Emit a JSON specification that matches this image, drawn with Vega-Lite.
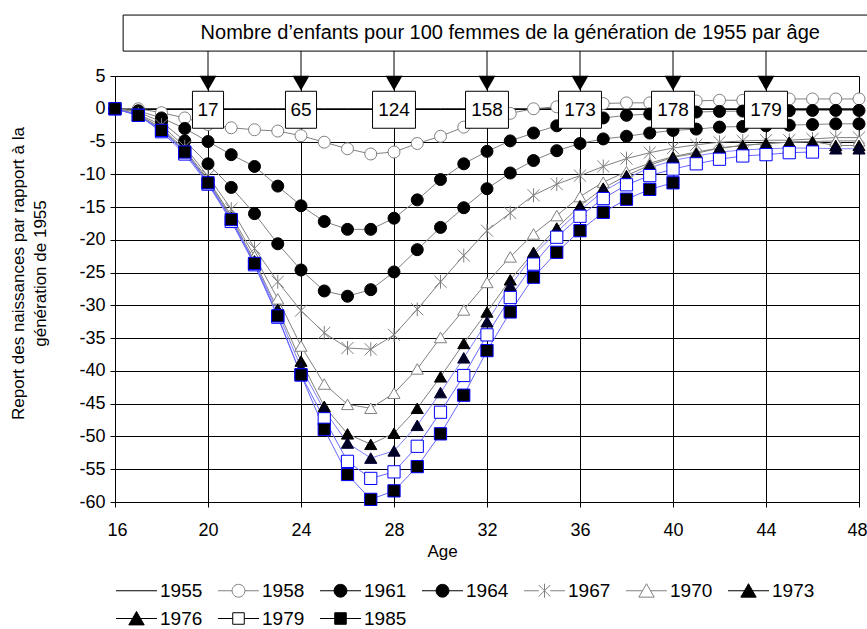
{
  "$schema": "https://vega.github.io/schema/vega-lite/v6.json",
  "width": 744,
  "height": 426,
  "autosize": {"type": "none"},
  "padding": {"left": 115, "top": 76, "right": 8, "bottom": 127},
  "background": "white",
  "config": {"font": "Liberation Sans", "view": {"stroke": null}},
  "datasets": {
    "d": [
      {"a":16,"1955":0,"1958":0,"1961":0,"1964":0,"1967":0,"1970":0,"1973":0,"1976":0,"1979":0,"1985":0},
      {"a":17,"1955":0,"1958":0,"1961":-0.3,"1964":-0.5,"1967":-0.8,"1970":-0.9,"1973":-1.0,"1976":-1.0,"1979":-1.0,"1985":-1.0},
      {"a":18,"1955":0,"1958":-0.6,"1961":-1.4,"1964":-2.0,"1967":-2.5,"1970":-2.9,"1973":-3.1,"1976":-3.2,"1979":-3.5,"1985":-3.3},
      {"a":19,"1955":0,"1958":-1.4,"1961":-3.0,"1964":-4.9,"1967":-5.8,"1970":-6.2,"1973":-6.4,"1976":-6.5,"1979":-6.9,"1985":-6.6},
      {"a":20,"1955":0,"1958":-2.4,"1961":-5.0,"1964":-8.4,"1967":-10.3,"1970":-10.8,"1973":-11.0,"1976":-11.2,"1979":-11.5,"1985":-11.3},
      {"a":21,"1955":0,"1958":-2.9,"1961":-7.0,"1964":-12.0,"1967":-15.3,"1970":-16.3,"1973":-16.6,"1976":-16.9,"1979":-17.2,"1985":-16.9},
      {"a":22,"1955":0,"1958":-3.2,"1961":-8.8,"1964":-16.0,"1967":-21.3,"1970":-22.5,"1973":-23.2,"1976":-23.5,"1979":-23.8,"1985":-23.6},
      {"a":23,"1955":0,"1958":-3.4,"1961":-11.8,"1964":-20.6,"1967":-26.4,"1970":-29.0,"1973":-30.6,"1976":-31.0,"1979":-31.8,"1985":-31.6},
      {"a":24,"1955":0,"1958":-4.1,"1961":-14.8,"1964":-24.6,"1967":-30.8,"1970":-36.2,"1973":-38.5,"1976":-39.5,"1979":-40.6,"1985":-40.6},
      {"a":25,"1955":0,"1958":-5.1,"1961":-17.2,"1964":-27.8,"1967":-34.2,"1970":-42.0,"1973":-45.4,"1976":-46.0,"1979":-47.3,"1985":-48.9},
      {"a":26,"1955":0,"1958":-6.1,"1961":-18.4,"1964":-28.6,"1967":-36.5,"1970":-45.1,"1973":-49.6,"1976":-51.0,"1979":-53.8,"1985":-55.8},
      {"a":27,"1955":0,"1958":-6.9,"1961":-18.4,"1964":-27.6,"1967":-36.7,"1970":-45.7,"1973":-51.2,"1976":-53.3,"1979":-56.4,"1985":-59.6},
      {"a":28,"1955":0,"1958":-6.6,"1961":-16.7,"1964":-24.9,"1967":-34.5,"1970":-43.4,"1973":-49.5,"1976":-52.2,"1979":-55.4,"1985":-58.3},
      {"a":29,"1955":0,"1958":-5.3,"1961":-13.9,"1964":-21.5,"1967":-30.6,"1970":-39.7,"1973":-45.7,"1976":-48.3,"1979":-51.5,"1985":-54.6},
      {"a":30,"1955":0,"1958":-4.2,"1961":-10.8,"1964":-18.1,"1967":-26.4,"1970":-34.9,"1973":-40.9,"1976":-43.3,"1979":-46.3,"1985":-49.6},
      {"a":31,"1955":0,"1958":-2.8,"1961":-8.4,"1964":-15.1,"1967":-22.4,"1970":-30.7,"1973":-35.8,"1976":-38.0,"1979":-40.7,"1985":-43.7},
      {"a":32,"1955":0,"1958":-1.6,"1961":-6.5,"1964":-12.2,"1967":-18.6,"1970":-26.5,"1973":-31.0,"1976":-32.5,"1979":-34.5,"1985":-36.9},
      {"a":33,"1955":0,"1958":-0.7,"1961":-4.9,"1964":-9.8,"1967":-15.9,"1970":-22.6,"1973":-26.1,"1976":-27.0,"1979":-28.8,"1985":-31.0},
      {"a":34,"1955":0,"1958":0,"1961":-3.7,"1964":-7.9,"1967":-13.2,"1970":-19.1,"1973":-21.9,"1976":-22.3,"1979":-23.7,"1985":-25.7},
      {"a":35,"1955":0,"1958":0.3,"1961":-2.6,"1964":-6.4,"1967":-11.5,"1970":-16.3,"1973":-18.2,"1976":-18.8,"1979":-19.6,"1985":-21.9},
      {"a":36,"1955":0,"1958":0.5,"1961":-1.9,"1964":-5.3,"1967":-10.2,"1970":-13.4,"1973":-14.8,"1976":-15.5,"1979":-16.4,"1985":-18.6},
      {"a":37,"1955":0,"1958":0.8,"1961":-1.4,"1964":-4.6,"1967":-8.8,"1970":-11.2,"1973":-12.1,"1976":-12.6,"1979":-13.7,"1985":-15.8},
      {"a":38,"1955":0,"1958":0.9,"1961":-1.0,"1964":-4.2,"1967":-7.6,"1970":-9.6,"1973":-10.2,"1976":-10.6,"1979":-11.6,"1985":-13.8},
      {"a":39,"1955":0,"1958":0.9,"1961":-0.8,"1964":-3.7,"1967":-6.7,"1970":-8.3,"1973":-8.6,"1976":-9.0,"1979":-10.2,"1985":-12.3},
      {"a":40,"1955":0,"1958":1.0,"1961":-0.6,"1964":-3.3,"1967":-6.0,"1970":-7.3,"1973":-7.4,"1976":-7.9,"1979":-9.2,"1985":-11.3},
      {"a":41,"1955":0,"1958":1.2,"1961":-0.5,"1964":-3.1,"1967":-5.5,"1970":-6.6,"1973":-6.8,"1976":-7.2,"1979":-8.4},
      {"a":42,"1955":0,"1958":1.3,"1961":-0.4,"1964":-2.8,"1967":-5.1,"1970":-6.0,"1973":-6.0,"1976":-6.6,"1979":-7.7},
      {"a":43,"1955":0,"1958":1.3,"1961":-0.35,"1964":-2.7,"1967":-4.9,"1970":-5.6,"1973":-5.6,"1976":-6.3,"1979":-7.2},
      {"a":44,"1955":0,"1958":1.4,"1961":-0.3,"1964":-2.6,"1967":-4.8,"1970":-5.3,"1973":-5.3,"1976":-6.1,"1979":-7.0},
      {"a":45,"1955":0,"1958":1.5,"1961":-0.3,"1964":-2.5,"1967":-4.8,"1970":-5.1,"1973":-5.1,"1976":-6.0,"1979":-6.7},
      {"a":46,"1955":0,"1958":1.5,"1961":-0.25,"1964":-2.4,"1967":-4.6,"1970":-5.0,"1973":-5.0,"1976":-6.0,"1979":-6.6},
      {"a":47,"1955":0,"1958":1.5,"1961":-0.25,"1964":-2.3,"1967":-4.4,"1970":-4.9,"1973":-5.6,"1976":-6.1},
      {"a":48,"1955":0,"1958":1.5,"1961":-0.25,"1964":-2.3,"1967":-4.4,"1970":-4.9,"1973":-5.6,"1976":-6.1}
    ],
    "lab": [
      {"a":20,"n":"17"},{"a":24,"n":"65"},{"a":28,"n":"124"},{"a":32,"n":"158"},
      {"a":36,"n":"173"},{"a":40,"n":"178"},{"a":44,"n":"179"}
    ]
  },
  "layer": [
    {
      "data": {"name": "d"},
      "transform": [
        {"fold": ["1955","1958","1961","1964","1967","1970","1973","1976","1979","1985"], "as": ["g","v"]},
        {"filter": "isValid(datum.v)"}
      ],
      "mark": {"type": "line", "strokeWidth": 1, "clip": false},
      "encoding": {
        "x": {"field": "a", "type": "quantitative",
          "scale": {"domain": [16,48], "nice": false, "zero": false},
          "axis": {"values": [16,20,24,28,32,36,40,44,48], "tickCount": 20, "grid": true, "gridColor": "#000", "gridOpacity": 1, "gridWidth": 1,
            "domainColor": "#000", "domainWidth": 1, "tickColor": "#000", "tickSize": 5, "tickWidth": 1,
            "labelFontSize": 18, "labelColor": "#000", "labelPadding": 14, "labelFlush": true, "labelFlushOffset": 8, "labelOverlap": false,
            "title": "Age", "titleFontSize": 17, "titleFontWeight": "normal", "titleColor": "#000",
            "titleX": 327, "titleY": 49, "titleBaseline": "middle"}},
        "y": {"field": "v", "type": "quantitative",
          "scale": {"domain": [-60,5], "nice": false, "zero": false},
          "axis": {"values": [-60,-55,-50,-45,-40,-35,-30,-25,-20,-15,-10,-5,0,5], "tickCount": 30, "grid": true, "gridColor": "#000", "gridOpacity": 1, "gridWidth": 1,
            "domainColor": "#000", "domainWidth": 1, "tickColor": "#000", "tickSize": 5, "tickWidth": 1,
            "labelFontSize": 18, "labelColor": "#000", "labelPadding": 5, "labelOverlap": false,
            "labelExpr": "datum.value < 0 ? '-' + abs(datum.value) : '' + datum.value",
            "title": ["Report des naissances par rapport à la", "génération de 1955"], "titleFontSize": 17, "titleFontWeight": "normal", "titleColor": "#000",
            "titleX": -88, "titleY": 197, "titleLineHeight": 22}},
        "stroke": {"field": "g", "type": "nominal",
          "scale": {"domain": ["1955","1958","1961","1964","1967","1970","1973","1976","1979","1985"],
            "range": ["#000000","#808080","#808080","#808080","#808080","#808080","#808080","#8080ff","#6666ff","#6666ff"]},
          "legend": null}
      }
    },
    {
      "data": {"name": "d"},
      "transform": [
        {"fold": ["1955","1958","1961","1964","1967","1970","1973","1976","1979","1985"], "as": ["g","v"]},
        {"filter": "isValid(datum.v)"},
        {"filter": "datum.g != '1955'"}
      ],
      "mark": {"type": "point", "filled": true, "opacity": 1, "strokeWidth": 1, "clip": false},
      "encoding": {
        "x": {"field": "a", "type": "quantitative"},
        "y": {"field": "v", "type": "quantitative"},
        "shape": {"field": "g", "type": "nominal", "legend": null,
          "scale": {"domain": ["1958","1961","1964","1967","1970","1973","1976","1979","1985"],
            "range": ["circle","circle","circle","M-1,-1L1,1M-1,1L1,-1M0,-1.15V1.15","triangle-up","triangle-up","triangle-up","square","square"]}},
        "fill": {"field": "g", "type": "nominal", "legend": null,
          "scale": {"domain": ["1958","1961","1964","1967","1970","1973","1976","1979","1985"],
            "range": ["#ffffff","#000000","#000000","#ffffff","#ffffff","#000000","#000022","#ffffff","#000000"]}},
        "stroke": {"field": "g", "type": "nominal", "legend": null,
          "scale": {"domain": ["1958","1961","1964","1967","1970","1973","1976","1979","1985"],
            "range": ["#808080","#000000","#000000","#808080","#808080","#000000","#000033","#0000ff","#0000ff"]}},
        "size": {"field": "g", "type": "nominal", "legend": null,
          "scale": {"domain": ["1958","1961","1964","1967","1970","1973","1976","1979","1985"],
            "range": [143,150,150,196,256,256,256,169,169]}}
      }
    },
    {
      "data": {"name": "d"},
      "transform": [
        {"fold": ["1955","1958","1961","1964","1967","1970","1973","1976","1979","1985"], "as": ["g","v"]},
        {"filter": "datum.a == 16"}
      ],
      "mark": {"type": "point", "filled": true, "opacity": 0, "strokeWidth": 1, "clip": false},
      "encoding": {
        "x": {"field": "a", "type": "quantitative"},
        "y": {"field": "v", "type": "quantitative"},
        "shape": {"field": "g", "type": "nominal",
          "scale": {"domain": ["1955","1958","1961","1964","1967","1970","1973","1976","1979","1985"],
            "range": [
              "M-1.6,0H1.6",
              "M-1.6,0H-0.5M0.5,0H1.6M-0.5,0A0.5,0.5,0,1,1,0.5,0A0.5,0.5,0,1,1,-0.5,0Z",
              "M-1.6,0H1.6M-0.5,0A0.5,0.5,0,1,1,0.5,0A0.5,0.5,0,1,1,-0.5,0Z",
              "M-1.6,0H1.6M-0.5,0A0.5,0.5,0,1,1,0.5,0A0.5,0.5,0,1,1,-0.5,0Z",
              "M-1.6,0H-0.45M0.45,0H1.6M-0.45,-0.45L0.45,0.45M-0.45,0.45L0.45,-0.45M0,-0.55V0.55",
              "M-1.6,0H-0.3M0.3,0H1.6M0,-0.55L0.6,0.5H-0.6Z",
              "M-1.6,0H1.6M0,-0.55L0.6,0.5H-0.6Z",
              "M-1.6,0H1.6M0,-0.55L0.6,0.5H-0.6Z",
              "M-1.6,0H-0.45M0.45,0H1.6M-0.45,-0.45H0.45V0.45H-0.45Z",
              "M-1.6,0H1.6M-0.45,-0.45H0.45V0.45H-0.45Z"
            ]},
          "legend": {"title": null, "orient": "none", "legendX": 8, "legendY": 501, "direction": "horizontal", "columns": 7,
            "symbolSize": 655, "symbolStrokeWidth": 1, "symbolOpacity": 1, "labelFontSize": 19, "labelColor": "#000",
            "labelOffset": 10, "columnPadding": 13, "rowPadding": 4, "padding": 0}},
        "fill": {"field": "g", "type": "nominal",
          "scale": {"domain": ["1955","1958","1961","1964","1967","1970","1973","1976","1979","1985"],
            "range": ["#ffffff","#ffffff","#000000","#000000","#ffffff","#ffffff","#000000","#000000","#ffffff","#000000"]},
          "legend": {"title": null, "orient": "none", "legendX": 8, "legendY": 501, "direction": "horizontal", "columns": 7,
            "symbolSize": 655, "symbolStrokeWidth": 1, "symbolOpacity": 1, "labelFontSize": 19, "labelColor": "#000",
            "labelOffset": 10, "columnPadding": 13, "rowPadding": 4, "padding": 0}},
        "stroke": {"field": "g", "type": "nominal",
          "scale": {"domain": ["1955","1958","1961","1964","1967","1970","1973","1976","1979","1985"],
            "range": ["#000000","#808080","#000000","#000000","#808080","#808080","#000000","#000000","#000000","#000000"]},
          "legend": {"title": null, "orient": "none", "legendX": 8, "legendY": 501, "direction": "horizontal", "columns": 7,
            "symbolSize": 655, "symbolStrokeWidth": 1, "symbolOpacity": 1, "labelFontSize": 19, "labelColor": "#000",
            "labelOffset": 10, "columnPadding": 13, "rowPadding": 4, "padding": 0}}
      }
    },
    {
      "data": {"name": "lab"},
      "mark": {"type": "rule", "color": "#000", "strokeWidth": 1, "clip": false},
      "encoding": {
        "x": {"field": "a", "type": "quantitative"},
        "y": {"datum": 8.8, "type": "quantitative"},
        "y2": {"datum": 4.0}
      }
    },
    {
      "data": {"name": "lab"},
      "mark": {"type": "point", "shape": "triangle-down", "filled": true, "color": "#000", "opacity": 1, "size": 289, "strokeWidth": 0, "clip": false},
      "encoding": {
        "x": {"field": "a", "type": "quantitative"},
        "y": {"datum": 3.9, "type": "quantitative"}
      }
    },
    {
      "data": {"name": "lab"},
      "transform": [{"filter": "length(datum.n) == 2"}],
      "mark": {"type": "point", "shape": "M-0.84,-1H0.84V1H-0.84Z", "filled": true, "fill": "#fff", "stroke": "#000", "strokeWidth": 1, "opacity": 1, "size": 1369, "clip": false},
      "encoding": {
        "x": {"field": "a", "type": "quantitative"},
        "y": {"datum": -0.15, "type": "quantitative"}
      }
    },
    {
      "data": {"name": "lab"},
      "transform": [{"filter": "length(datum.n) == 3"}],
      "mark": {"type": "point", "shape": "M-1.16,-1H1.16V1H-1.16Z", "filled": true, "fill": "#fff", "stroke": "#000", "strokeWidth": 1, "opacity": 1, "size": 1369, "clip": false},
      "encoding": {
        "x": {"field": "a", "type": "quantitative"},
        "y": {"datum": -0.15, "type": "quantitative"}
      }
    },
    {
      "data": {"name": "lab"},
      "mark": {"type": "text", "fontSize": 19, "color": "#000", "align": "center", "baseline": "middle", "clip": false},
      "encoding": {
        "x": {"field": "a", "type": "quantitative"},
        "y": {"datum": -0.15, "type": "quantitative"},
        "text": {"field": "n", "type": "nominal"}
      }
    },
    {
      "data": {"values": [{}]},
      "mark": {"type": "rect", "fill": "#fff", "stroke": "#000", "strokeWidth": 1, "clip": false},
      "encoding": {
        "x": {"datum": 16.35, "type": "quantitative"},
        "x2": {"datum": 48.4},
        "y": {"datum": 14.3, "type": "quantitative"},
        "y2": {"datum": 8.8}
      }
    },
    {
      "data": {"values": [{}]},
      "mark": {"type": "text", "text": "Nombre d’enfants pour 100 femmes de la génération de 1955 par âge", "fontSize": 20, "color": "#000", "align": "center", "baseline": "middle", "clip": false},
      "encoding": {
        "x": {"datum": 33.0, "type": "quantitative"},
        "y": {"datum": 11.6, "type": "quantitative"}
      }
    }
  ],
  "resolve": {
    "scale": {"stroke": "independent", "fill": "independent", "shape": "independent", "size": "independent"},
    "legend": {"stroke": "independent", "fill": "independent", "shape": "independent", "size": "independent"}
  }
}
